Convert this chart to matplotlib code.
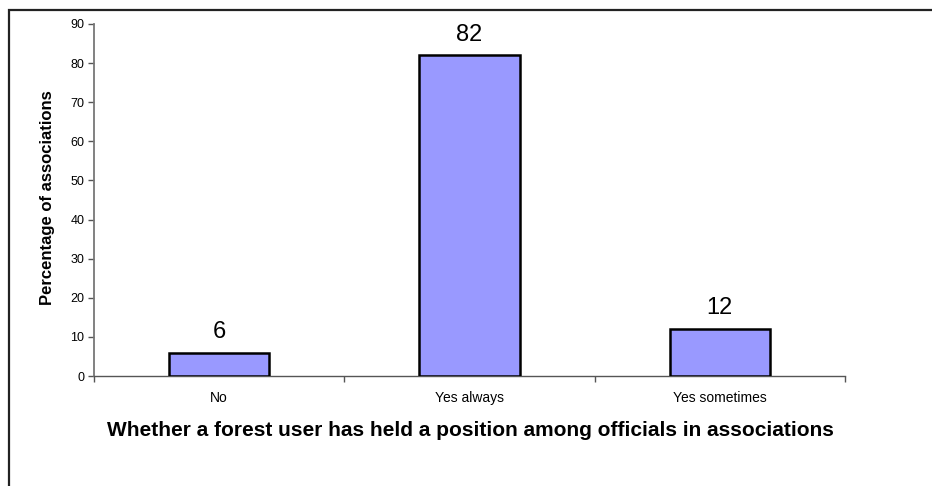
import matplotlib
matplotlib.use("Agg")
import matplotlib.pyplot as plt
from matplotlib.patches import Rectangle
import numpy as np

categories = ["No", "Yes always", "Yes sometimes"]
values = [6, 82, 12]
yticks = [0, 10, 20, 30, 40, 50, 60, 70, 80, 90]

plt.rcParams['font.family'] = ['Liberation Sans', 'DejaVu Sans']

W, H = 932, 486
fig = plt.figure(figsize=(W / 100, H / 100), dpi=100)
ax = fig.add_axes([94 / W, 1 - 376 / H, (845 - 94) / W, (376 - 24) / H])

x = np.arange(len(categories))
ax.bar(x, values, width=0.4, color="#9999FF", edgecolor="black", linewidth=1.8, zorder=3)
for xi, v in zip(x, values):
    ax.annotate(str(v), (xi, v), xytext=(0, 7), textcoords="offset points",
                ha="center", va="bottom", fontsize=17)

ax.set_xlim(-0.5, len(categories) - 0.5)
ax.set_ylim(0, 90)
ax.set_yticks(yticks)
ax.tick_params(axis="y", labelsize=9, length=4, width=1, color="#555555", pad=3)

ax.set_xticks(x)
ax.set_xticklabels(categories)
ax.tick_params(axis="x", which="major", length=0, labelsize=10, pad=11)
ax.set_xticks(np.arange(len(categories) + 1) - 0.5, minor=True)
ax.tick_params(axis="x", which="minor", length=4, width=1, color="#555555")

for s in ["top", "right"]:
    ax.spines[s].set_visible(False)
ax.spines["left"].set_color("#777777")
ax.spines["left"].set_linewidth(1.3)
ax.spines["bottom"].set_color("#555555")
ax.spines["bottom"].set_linewidth(1.0)

fig.text(470 / W, 1 - 436 / H, "Whether a forest user has held a position among officials in associations",
         ha="center", va="baseline", fontsize=15, fontweight="bold")
fig.text(48 / W, 1 - 198 / H, "Percentage of associations", ha="center", va="center",
         rotation=90, fontsize=12, fontweight="bold")

fig.patches.append(Rectangle((9 / W, -0.1), 1.2, 1.1 - 10 / H, transform=fig.transFigure,
                             fill=False, edgecolor="#222222", linewidth=1.6, clip_on=False))

fig.savefig("out.png", dpi=100)
